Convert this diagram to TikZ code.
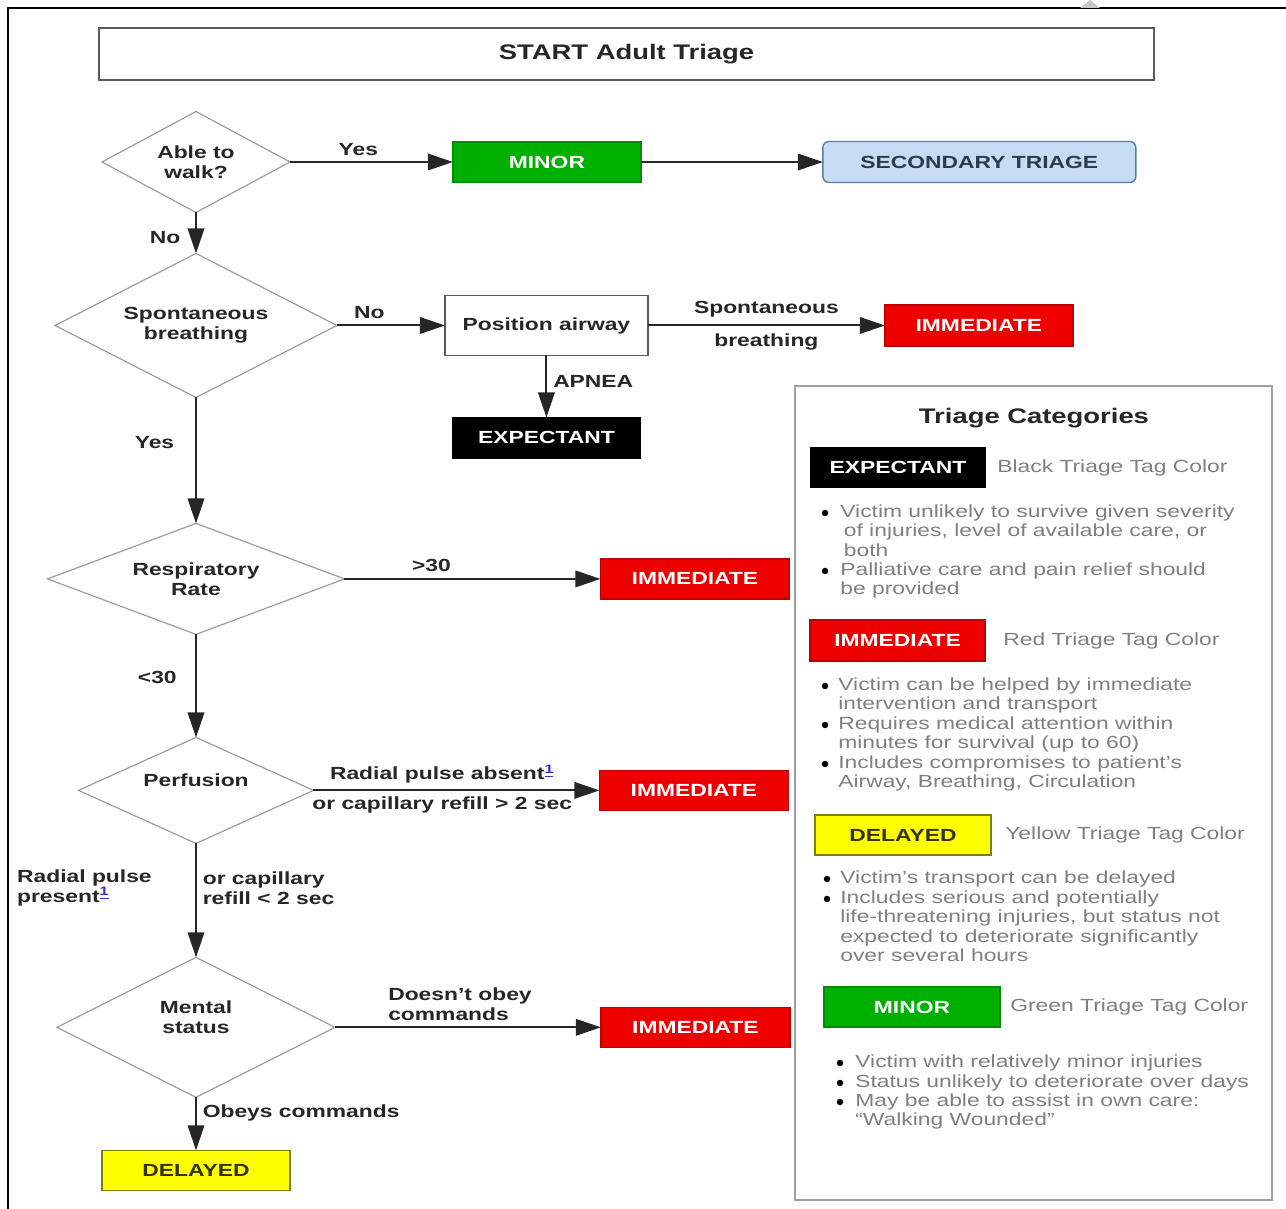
\documentclass[tikz,border=0pt]{standalone}
\usepackage{fontspec}
\setmainfont{Liberation Sans}[FakeStretch=1.3]
\usetikzlibrary{shapes.geometric,positioning,arrows.meta}

\definecolor{ink}{HTML}{262626}
\definecolor{diagrey}{HTML}{9E9E9E}
\definecolor{boxgrey}{HTML}{5A5A5A}
\definecolor{minorgreen}{HTML}{00B000}
\definecolor{immred}{HTML}{EE0000}
\definecolor{delyellow}{HTML}{FFFF00}
\definecolor{delink}{HTML}{333300}
\definecolor{secblue}{HTML}{C5DCF5}
\definecolor{secedge}{HTML}{5F7EA0}
\definecolor{secink}{HTML}{2E3B4B}
\definecolor{notegrey}{HTML}{7F7F7F}
\definecolor{panelgrey}{HTML}{A0A0A0}
\definecolor{linkblue}{HTML}{3333CC}

\begin{document}
\begin{tikzpicture}[x=0.02cm,y=-0.02cm,node distance=1cm,
	  every node/.style={font=\fontsize{10}{11.4}\selectfont\bfseries,text=ink},
	  decision/.style={diamond,shape aspect=2,draw=diagrey,line width=0.7pt,align=center,inner sep=0pt,outer sep=0pt},
	  box/.style={rectangle,draw=boxgrey,line width=0.8pt,minimum width=3.76cm,minimum height=0.8cm,inner sep=0pt,outer sep=0pt},
	  redtag/.style={box,fill=immred,draw=immred!80!black,text=white},
	  blacktag/.style={box,fill=black,draw=black,text=white},
	  greentag/.style={box,fill=minorgreen,draw=minorgreen!80!black,text=white},
	  yellowtag/.style={box,fill=delyellow,draw=delyellow!50!black,text=delink},
	  flow/.style={color=ink,line width=1.1pt,-{Triangle[length=0.5cm,width=0.33cm]}},
	  note/.style={font=\fontsize{10}{11.1}\selectfont,text=notegrey,align=left,inner sep=0pt,anchor=north west}]

	  \useasboundingbox (0,0) rectangle (1286,1209);
	  \draw[line width=1.2pt] (8,1209) -- (8,8) -- (1286,8);
	  \fill[gray!45] (1080,8) -- (1090,0) -- (1100,8) -- cycle;

	  \node[box,draw=boxgrey,minimum width=21.1cm,minimum height=1.04cm,
	        font=\fontsize{12}{14}\selectfont\bfseries] (title) at (626.5,54) {START Adult Triage};

	  % main column
	  \node[decision,minimum width=3.76cm,minimum height=2.02cm] (walk) at (196,162) {Able to\\walk?};
	  \node[greentag,right=3.26cm of walk] (minor) {MINOR};
	  \node[box,fill=secblue,draw=secedge,rounded corners=0.12cm,minimum width=6.26cm,minimum height=0.82cm,
	        text=secink,right=3.64cm of minor] (second) {SECONDARY TRIAGE};

	  \node[decision,minimum width=5.64cm,minimum height=2.88cm,below=0.82cm of walk] (breath) {Spontaneous\\breathing};
	  \node[box,minimum width=4.06cm,minimum height=1.2cm,right=2.16cm of breath] (airway) {Position airway};
	  \node[redtag,minimum height=0.82cm,right=4.74cm of airway] (imm1) {IMMEDIATE};
	  \node[blacktag,minimum height=0.82cm,below=1.24cm of airway] (expect) {EXPECTANT};

	  \node[decision,minimum width=5.94cm,minimum height=2.22cm,below=2.52cm of breath] (resp) {Respiratory\\Rate};
	  \node[redtag,minimum width=3.78cm,right=5.12cm of resp] (imm2) {IMMEDIATE};

	  \node[decision,minimum width=4.7cm,minimum height=2.12cm,below=2.06cm of resp] (perf) {Perfusion\\\mbox{}};
	  \node[redtag,minimum width=3.78cm,right=5.72cm of perf] (imm3) {IMMEDIATE};

	  \node[decision,minimum width=5.56cm,minimum height=2.8cm,below=2.28cm of perf] (mental) {Mental\\status\\\mbox{}};
	  \node[redtag,minimum width=3.78cm,right=5.32cm of mental] (imm4) {IMMEDIATE};
	  \node[yellowtag,below=1.06cm of mental] (delayed) {DELAYED};

	  \path[flow]
	    (walk) edge node[above,pos=0.42] {Yes} (minor)
	           edge node[left=5pt,pos=0.62] {No} (breath)
	    (minor) edge (second)
	    (breath) edge node[above,pos=0.3] {No} (airway)
	             edge node[left=0.3cm,pos=0.36] {Yes} (resp)
	    (airway) edge node[above=1pt] {Spontaneous} node[below=1pt] {breathing} (imm1)
	             edge node[right=0pt,pos=0.42] {APNEA} (expect)
	    (resp) edge node[above,pos=0.34] {>30} (imm2)
	           edge node[left=0.25cm,pos=0.42] {<30} (perf)
	    (perf) edge node[above,pos=0.45] {Radial pulse absent\textsuperscript{\color{linkblue}\underline{1}}}
	                node[below,pos=0.45] {or capillary refill > 2 sec} (imm3)
	           edge node[right,align=left,pos=0.39] {or capillary\\refill < 2 sec}
	                node[left=0.75cm,align=left,pos=0.39] {Radial pulse\\present\textsuperscript{\color{linkblue}\underline{1}}} (mental)
	    (mental) edge node[above,align=left,pos=0.47] {Doesn't obey\\commands} (imm4)
	             edge node[right,pos=0.3] {Obeys commands} (delayed);

	  % legend
	  \node[draw=panelgrey,line width=1pt,minimum width=9.54cm,minimum height=16.28cm,inner sep=0pt] (panel) at (1033.5,793) {};
	  \node[font=\fontsize{12}{14}\selectfont\bfseries] (cattitle) at (1034,418) {Triage Categories};

	  \node[blacktag,minimum width=3.48cm,minimum height=0.78cm] (lexp) at (898,467.5) {EXPECTANT};
	  \node[note,right=0.24cm of lexp] (lexptext) {Black Triage Tag Color};
	  \node[note] (exp1) at (840,504) {Victim unlikely to survive given severity\\\hspace{2pt}of injuries, level of available care, or\\\hspace{2pt}both};
	  \node[note] (exp2) at (840,562) {Palliative care and pain relief should\\be provided};

	  \node[redtag,minimum width=3.5cm,minimum height=0.82cm] (limm) at (897.5,640.5) {IMMEDIATE};
	  \node[note,right=0.36cm of limm] (limmtext) {Red Triage Tag Color};
	  \node[note] (imm1text) at (838,677) {Victim can be helped by immediate\\intervention and transport};
	  \node[note] (imm2text) at (838,716) {Requires medical attention within\\minutes for survival (up to 60)};
	  \node[note] (imm3text) at (838,755) {Includes compromises to patient's\\Airway, Breathing, Circulation};

	  \node[yellowtag,minimum width=3.52cm] (ldel) at (903,835) {DELAYED};
	  \node[note,right=0.28cm of ldel] (ldeltext) {Yellow Triage Tag Color};
	  \node[note] (del1) at (840,870) {Victim's transport can be delayed};
	  \node[note] (del2) at (840,890) {Includes serious and potentially\\life-threatening injuries, but status not\\expected to deteriorate significantly\\over several hours};

	  \node[greentag,minimum width=3.52cm] (lmin) at (912,1007) {MINOR};
	  \node[note,right=0.2cm of lmin] (lmintext) {Green Triage Tag Color};
	  \node[note] (min1) at (855,1054) {Victim with relatively minor injuries};
	  \node[note] (min2) at (855,1074) {Status unlikely to deteriorate over days};
	  \node[note] (min3) at (855,1093) {May be able to assist in own care:\\``Walking Wounded''};

	  \fill (825,513) circle[radius=0.065cm] (825,571) circle[radius=0.065cm]
	        (825,686) circle[radius=0.065cm] (825,725) circle[radius=0.065cm] (825,764) circle[radius=0.065cm]
	        (827,879) circle[radius=0.065cm] (827,899) circle[radius=0.065cm]
	        (840,1063) circle[radius=0.065cm] (840,1083) circle[radius=0.065cm] (840,1102) circle[radius=0.065cm];

\end{tikzpicture}
\end{document}
